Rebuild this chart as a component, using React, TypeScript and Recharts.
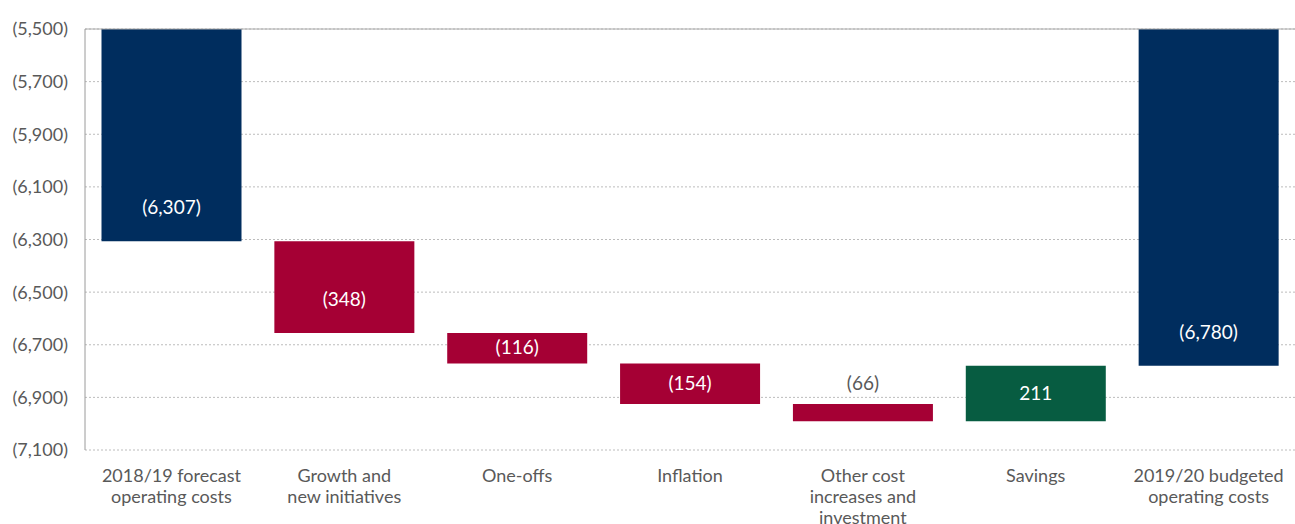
import { BarChart, Bar, XAxis, YAxis, CartesianGrid, Cell, LabelList, ReferenceLine } from 'recharts';

// Operating cost bridge, £m (negative = cost)
const categories = [
  '2018/19 forecast|operating costs',
  'Growth and|new initiatives',
  'One-offs',
  'Inflation',
  'Other cost|increases and|investment',
  'Savings',
  '2019/20 budgeted|operating costs',
];
const changes = [-6307, -348, -116, -154, -66, 211, -6780];
const isTotal = [true, false, false, false, false, false, true];
const yTicks = [-7100, -6900, -6700, -6500, -6300, -6100, -5900, -5700, -5500];

const NAVY = '#002D5E';
const RED = '#A50034';
const GREEN = '#075C41';
const TEXT = '#595959';
const FONT = 'Lato, "Noto Sans", sans-serif';

const fmt = (v: number) => {
  const s = Math.abs(v).toLocaleString('en-GB');
  return v < 0 ? `(${s})` : s;
};

let running = 0;
const data = categories.map((name, i) => {
  let range: [number, number];
  if (isTotal[i]) {
    range = [0, changes[i]];
    running = changes[i];
  } else {
    range = [running, running + changes[i]];
    running += changes[i];
  }
  return { name, range, value: changes[i], total: isTotal[i] };
});

const colorFor = (d: { value: number; total: boolean }) => (d.total ? NAVY : d.value < 0 ? RED : GREEN);

const CategoryTick = (props: any) => {
  const { x, y, payload } = props;
  const lines = String(payload.value).split('|');
  return (
    <text x={x} y={y} textAnchor="middle" fill={TEXT} fontSize={18} fontFamily={FONT}>
      {lines.map((l, i) => (
        <tspan key={i} x={x} dy={i === 0 ? 24 : 21}>
          {l}
        </tspan>
      ))}
    </text>
  );
};

const BarLabel = (props: any) => {
  const { x, y, width, height, index } = props;
  const d = data[index];
  const top = Math.max(Math.min(y, y + height), 29);
  const bottom = Math.max(y, y + height);
  const h = bottom - top;
  const cx = x + width / 2;
  if (h < 25) {
    return (
      <text x={cx} y={top - 14} textAnchor="middle" fill={TEXT} fontSize={19} fontFamily={FONT}>
        {fmt(d.value)}
      </text>
    );
  }
  const cy = h > 70 ? bottom - 33 : (top + bottom) / 2;
  return (
    <text x={cx} y={cy} dy={6} textAnchor="middle" fill="#ffffff" fontSize={19} fontFamily={FONT}>
      {fmt(d.value)}
    </text>
  );
};

export default function App() {
  return (
    <div style={{ position: 'absolute', left: 0, top: 0 }}>
      <BarChart width={1295} height={524} data={data} margin={{ top: 29, right: 0, bottom: 0, left: 0 }} barCategoryGap={16.5}>
        <CartesianGrid vertical={false} stroke="#bcbcbc" strokeDasharray="2 2" />
        <XAxis dataKey="name" axisLine={false} tickLine={false} interval={0} tick={<CategoryTick />} height={74} />
        <YAxis
          domain={[-7100, -5500]}
          ticks={yTicks}
          allowDataOverflow
          width={85}
          tickFormatter={fmt}
          tickLine={false}
          tickSize={0}
          tickMargin={17}
          axisLine={{ stroke: '#9a9a9a' }}
          tick={{ fill: TEXT, fontSize: 18, fontFamily: FONT }}
        />
        <ReferenceLine y={-5500} stroke="#aaaaaa" />
        <Bar dataKey="range" isAnimationActive={false}>
          {data.map((d, i) => (
            <Cell key={i} fill={colorFor(d)} />
          ))}
          <LabelList dataKey="value" content={<BarLabel />} />
        </Bar>
      </BarChart>
    </div>
  );
}
